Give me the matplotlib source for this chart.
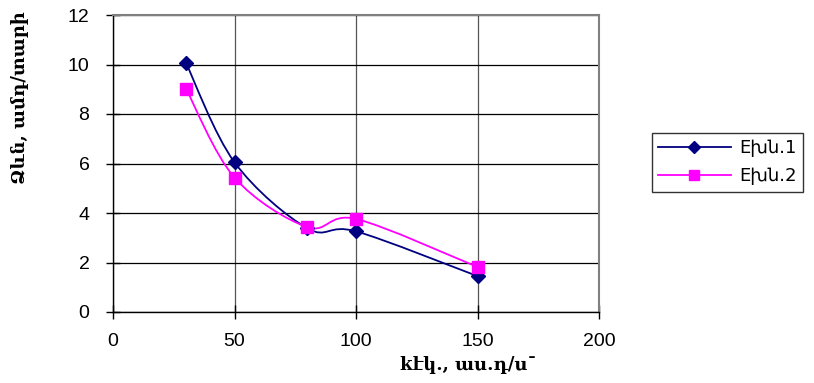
import matplotlib
matplotlib.use("Agg")
import matplotlib.pyplot as plt
import numpy as np
from matplotlib.path import Path
from matplotlib.patches import PathPatch

# data
x_vals = [30, 50, 80, 100, 150]
series1 = [10.07, 6.05, 3.38, 3.26, 1.45]
series2 = [9.03, 5.43, 3.43, 3.76, 1.82]
labels = ["Eխն.1", "Eխն.2"]
xlabel = "kէկ., աս.դ/ս¯"
ylabel = "Ձևն, ամդ/տարի"

XMAX, YMAX = 200, 12


def smooth_path(xs, ys, sx, sy):
    # excel-like smoothed line: catmull-rom bezier, done in screen proportions
    p = np.column_stack([np.asarray(xs) * sx, np.asarray(ys) * sy])
    verts = [p[0]]
    codes = [Path.MOVETO]
    n = len(p)
    for i in range(n - 1):
        p0 = p[i - 1] if i > 0 else p[i]
        p3 = p[i + 2] if i + 2 < n else p[i + 1]
        c1 = p[i] + (p[i + 1] - p0) / 6
        c2 = p[i + 1] - (p3 - p[i]) / 6
        verts += [c1, c2, p[i + 1]]
        codes += [Path.CURVE4] * 3
    verts = np.array(verts)
    verts[:, 0] /= sx
    verts[:, 1] /= sy
    return Path(verts, codes)


fig = plt.figure(figsize=(8.14, 3.83), dpi=100)
ax = fig.add_axes([113 / 814, 1 - 312 / 383, 486 / 814, 297 / 383])

ax.set_xlim(0, XMAX)
ax.set_ylim(0, YMAX)
ax.set_xticks(range(0, 201, 50))
ax.set_yticks(range(0, 13, 2))
ax.grid(True, axis="y", color="black", lw=0.9)
ax.grid(True, axis="x", color="#555555", lw=0.9)
ax.set_axisbelow(True)

sx, sy = 486 / XMAX, 297 / YMAX
for ys, col, mk, ms in [(series1, "#000080", "D", 7), (series2, "#FF00FF", "s", 8)]:
    ax.add_patch(PathPatch(smooth_path(x_vals, ys, sx, sy), fc="none", ec=col, lw=1.3, zorder=3))
    ax.plot(x_vals, ys, ls="none", marker=mk, ms=ms, color=col, zorder=4)

h1, = ax.plot([], [], color="#000080", lw=1.3, marker="D", ms=6)
h2, = ax.plot([], [], color="#FF00FF", lw=1.3, marker="s", ms=6.5)

for s in ["top", "right"]:
    ax.spines[s].set_color("#808080")
    ax.spines[s].set_linewidth(1.5)
for s in ["left", "bottom"]:
    ax.spines[s].set_color("black")
    ax.spines[s].set_linewidth(1.0)

ax.tick_params(axis="both", direction="inout", length=10, width=1, labelsize=14)
ax.tick_params(axis="y", pad=12)
ax.tick_params(axis="x", pad=10)
for t in ax.get_xticklabels() + ax.get_yticklabels():
    t.set_family("Liberation Sans")

fig.text(468 / 814, 1 - 365 / 383, xlabel, ha="center", va="center",
         fontsize=13, fontweight="bold", family="DejaVu Serif")
fig.text(20 / 814, 1 - 98 / 383, ylabel, ha="center", va="center", rotation=90,
         fontsize=13, fontweight="bold", family="DejaVu Serif")

leg = fig.legend([h1, h2], labels, loc="upper left", bbox_to_anchor=(652 / 814, 1 - 133 / 383),
                 frameon=True, fancybox=False, edgecolor="black", handlelength=4.0,
                 prop={"family": ["DejaVu Sans"], "size": 13},
                 borderpad=0.35, labelspacing=0.55, handletextpad=0.5, borderaxespad=0)
leg.get_frame().set_linewidth(1.0)

fig.savefig("out.png", dpi=100)
